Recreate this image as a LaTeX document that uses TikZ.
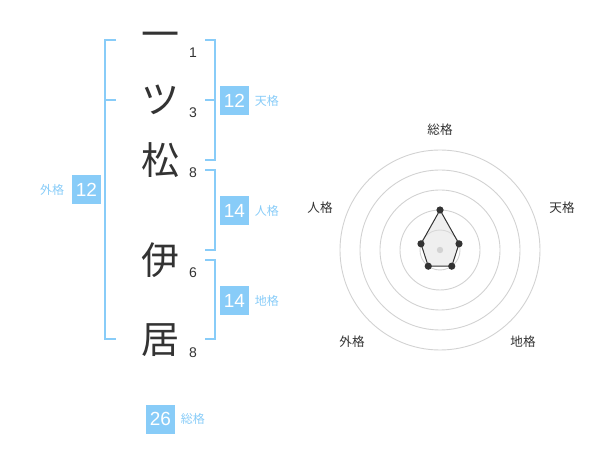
\documentclass[tikz,border=0pt]{standalone}
\usepackage{fontspec}
\setmainfont{Liberation Sans}
\newfontfamily\jpfont{Noto Sans CJK JP}
\usepackage{xcolor}
\usetikzlibrary{positioning}
\definecolor{kakublue}{HTML}{88CCF8}
\definecolor{inkgray}{HTML}{333333}
\definecolor{ringgray}{HTML}{D2D2D2}

\begin{document}
\begin{tikzpicture}[x=0.5pt, y=-0.5pt,
    kanji/.style={font=\jpfont\fontsize{19}{19}\selectfont, text=inkgray, inner sep=0},
    strokes/.style={font=\fontsize{7}{7}\selectfont, text=inkgray, inner sep=0},
    kakubox/.style={fill=kakublue, text=white, minimum size=14.5pt, inner sep=0,
        font=\fontsize{9.5}{9.5}\selectfont},
    kakuname/.style={font=\jpfont\fontsize{6}{6}\selectfont, text=kakublue, inner sep=0},
    bracket/.style={draw=kakublue, line width=1pt},
    ring/.style={draw=ringgray, line width=0.45pt},
    axisname/.style={font=\jpfont\fontsize{6.3}{6.3}\selectfont, text=inkgray, inner sep=0}]
    \useasboundingbox (0,0) rectangle (600,470);

    % 名前
    \node[kanji] (c1) at (160,40) {一};
    \node[kanji] (c2) at (160,100) {ツ};
    \node[kanji] (c3) at (160,160) {松};
    \node[kanji] (c4) at (160,260) {伊};
    \node[kanji] (c5) at (160,340) {居};
    \node[strokes] (n1) at (193,53) {1};
    \node[strokes] (n2) at (193,113) {3};
    \node[strokes] (n3) at (193,173) {8};
    \node[strokes] (n4) at (193,273) {6};
    \node[strokes] (n5) at (193,353) {8};

    % 括弧
    \draw[bracket] (116,40) -- (105,40) -- (105,339) -- (116,339);
    \draw[bracket] (105,100) -- (116,100);
    \draw[bracket] (205,40) -- (215,40) -- (215,160) -- (205,160);
    \draw[bracket] (205,100) -- (215,100);
    \draw[bracket] (205,170) -- (215,170) -- (215,250) -- (205,250);
    \draw[bracket] (205,260) -- (215,260) -- (215,339) -- (205,339);

    % 画数
    \node[kakubox] (gai) at (86.5,190) {12};
    \node[kakuname, left=3.5pt of gai] (gailab) {外格};
    \node[kakubox] (ten) at (234.5,100.5) {12};
    \node[kakuname, right=2.5pt of ten] (tenlab) {天格};
    \node[kakubox] (jin) at (234.5,210.5) {14};
    \node[kakuname, right=2.5pt of jin] (jinlab) {人格};
    \node[kakubox] (chi) at (234.5,300.5) {14};
    \node[kakuname, right=2.5pt of chi] (chilab) {地格};
    \node[kakubox] (sou) at (160.5,419) {26};
    \node[kakuname, right=2.5pt of sou] (soulab) {総格};

    % レーダー
    \coordinate (radar) at (440,250);
    \foreach \r in {10,20,30,40,50}
        \draw[ring] (radar) circle[radius=\r pt];
    \coordinate (psou) at ([shift={(90:20pt)}]radar);
    \coordinate (pten) at ([shift={(18:10pt)}]radar);
    \coordinate (pchi) at ([shift={(-54:10pt)}]radar);
    \coordinate (pgai) at ([shift={(-126:10pt)}]radar);
    \coordinate (pjin) at ([shift={(162:10pt)}]radar);
    \filldraw[fill=gray!25, fill opacity=0.5, draw=inkgray, line width=0.5pt]
        (psou) -- (pten) -- (pchi) -- (pgai) -- (pjin) -- cycle;
    \fill[ringgray] (radar) circle[radius=1.6pt];
    \foreach \p in {psou,pten,pchi,pgai,pjin}
        \fill[inkgray] (\p) circle[radius=1.8pt];
    \node[axisname] (asou) at (440,130) {総格};
    \node[axisname] (aten) at (562,208) {天格};
    \node[axisname] (ajin) at (320,208) {人格};
    \node[axisname] (agai) at (352,342) {外格};
    \node[axisname] (achi) at (523,342) {地格};
\end{tikzpicture}
\end{document}
